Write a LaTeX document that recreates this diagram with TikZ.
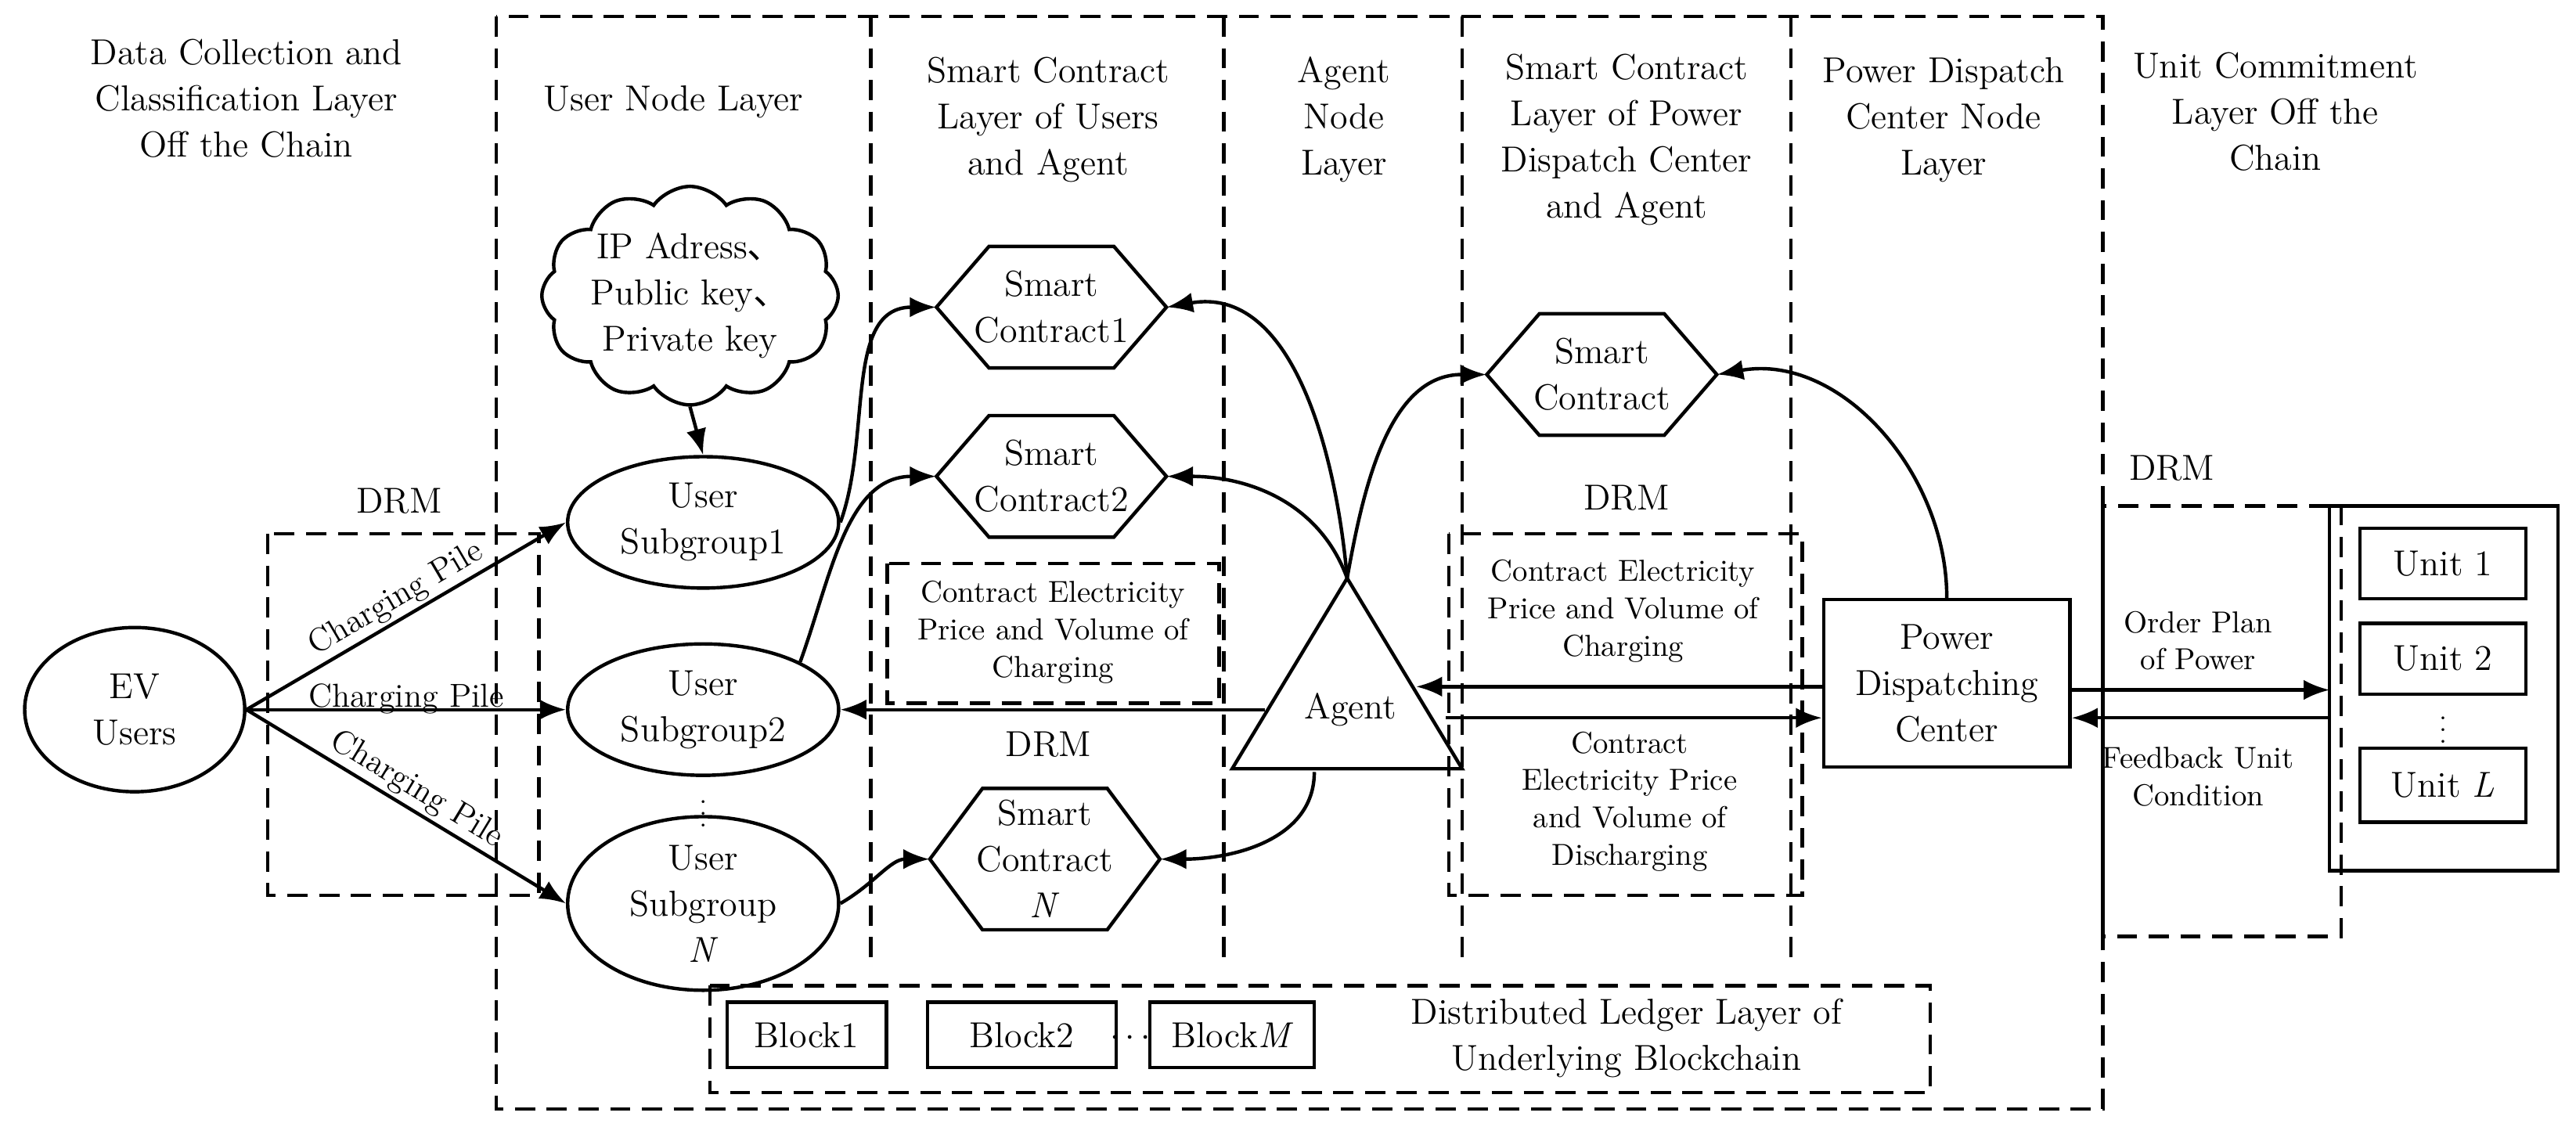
\documentclass[tikz,border=0pt]{standalone}
\usepackage{fontspec}
\newfontfamily\cjk{Noto Sans CJK SC}
\usetikzlibrary{shapes.geometric,shapes.symbols,arrows.meta}
\begin{document}
\begin{tikzpicture}[x=0.02cm,y=-0.02cm,
  font=\fontsize{12.5}{16}\selectfont,
  every node/.style={align=center,inner sep=1pt},
  dbox/.style={draw,line width=1.2pt,dash pattern=on 7pt off 4pt},
  arr/.style={line width=1.2pt,-{Latex[length=9pt,width=7pt]}},
  ell/.style={draw,ellipse,line width=1.2pt,minimum width=3.3cm,minimum height=1.6cm},
  box/.style={draw,line width=1.2pt},
  dots/.style={font=\fontsize{9}{9}\selectfont,inner sep=0pt},
  small/.style={font=\fontsize{10.5}{13}\selectfont},
  cp/.style={font=\fontsize{11.5}{13}\selectfont}]
\useasboundingbox (0,0) rectangle (1568,686);
% dashed frames
\draw[dbox] (302,10) rectangle (1280,675);
\foreach \x in {530,745,890,1090} \draw[dbox] (\x,10) -- (\x,585);
\draw[dbox] (432,600) rectangle (1175,665);
\draw[dbox] (163,325) rectangle (328,545);
\draw[dbox] (1280,308) rectangle (1425,570);
\draw[dbox] (882,325) rectangle (1097,545);
\draw[dbox] (540,343) rectangle (742,428);
% titles
\node (t1) at (150,60) {Data Collection and\\Classification Layer\\Off the Chain};
\node (t2) at (410,62) {User Node Layer};
\node (t3) at (638,73) {Smart Contract\\Layer of Users\\and Agent};
\node (t4) at (818,73) {Agent\\Node\\Layer};
\node (t5) at (990,85) {Smart Contract\\Layer of Power\\Dispatch Center\\and Agent};
\node (t6) at (1183,73) {Power Dispatch\\Center Node\\Layer};
\node (t7) at (1385,68) {Unit Commitment\\Layer Off the\\Chain};
\node (d1) at (243,305) {DRM};
\node (d2) at (1322,285) {DRM};
\node (d3) at (990,303) {DRM};
\node (d4) at (638,453) {DRM};
% nodes
\node[ell,minimum width=2.68cm,minimum height=2cm] (ev) at (82,432) {EV\\Users};
\node[ell] (u1) at (428,318) {User\\Subgroup1};
\node[ell] (u2) at (428,432) {User\\Subgroup2};
\node[dots] (ud) at (428,490) {$\vdots$};
\node[ell,minimum height=1.8cm] (un) at (428,550) {User\\Subgroup\\\textit{N}};
\node[draw,cloud,cloud puffs=12,cloud puff arc=110,aspect=1.5,line width=1.2pt,minimum width=3.6cm,minimum height=2.3cm,inner sep=0pt] (cl) at (420,180) {IP Adress{\cjk 、}\\Public key{\cjk 、}\\Private key};
\newcommand\hexa[4]{%
  \draw[line width=1.2pt] (#2-70,#3) -- (#2-38,#3-37) -- (#2+38,#3-37) -- (#2+70,#3) -- (#2+38,#3+37) -- (#2-38,#3+37) -- cycle;
  \node[minimum width=2.8cm,minimum height=1.48cm] (#1) at (#2,#3) {#4};}
\hexa{sc1}{640}{187}{Smart\\Contract1}
\hexa{sc2}{640}{290}{Smart\\Contract2}
\draw[line width=1.2pt] (566,523) -- (598,480) -- (674,480) -- (706,523) -- (674,566) -- (598,566) -- cycle;
\node[minimum width=2.8cm,minimum height=1.72cm] (scn) at (636,523) {Smart\\Contract\\\textit{N}};
\hexa{scr}{975}{228}{Smart\\Contract}
\node[small] (cc1) at (641,385) {Contract Electricity\\Price and Volume of\\Charging};
% agent
\coordinate (apex) at (820,352);
\coordinate (bl) at (750,468);
\coordinate (br) at (890,468);
\draw[line width=1.2pt] (apex) -- (bl) -- (br) -- cycle;
\node (ag) at (822,432) {Agent};
\coordinate (agl) at (770,432);
\coordinate (agr) at (862,418);
\coordinate (agr2) at (880,437);
\coordinate (agb) at (800,470);
% PDC
\node[box,minimum width=3cm,minimum height=2.04cm] (pdc) at (1185,416) {Power\\Dispatching\\Center};
% units
\draw[line width=1.2pt] (1418,308) rectangle (1557,530);
\node[box,minimum width=2.02cm,minimum height=0.86cm] (un1) at (1487,343) {Unit 1};
\node[box,minimum width=2.02cm,minimum height=0.86cm] (un2) at (1487,401) {Unit 2};
\node[dots] (und) at (1487,439) {$\vdots$};
\node[box,minimum width=2.02cm,minimum height=0.9cm] (unl) at (1487,478) {Unit \textit{L}};
\coordinate (uo) at (1418,420);
\coordinate (uf) at (1418,437);
% labels
\node[small] (cc2) at (988,372) {Contract Electricity\\Price and Volume of\\Charging};
\node[small] (cd) at (992,488) {Contract\\Electricity Price\\and Volume of\\Discharging};
\node[small] (op) at (1338,390) {Order Plan\\of Power};
\node[small] (fb) at (1338,473) {Feedback Unit\\Condition};
% blocks
\node[box,minimum width=1.94cm,minimum height=0.8cm] (b1) at (491,630) {Block1};
\node[box,minimum width=2.3cm,minimum height=0.8cm] (b2) at (622,630) {Block2};
\node (bd) at (688,632) {$\cdots$};
\node[box,minimum width=2cm,minimum height=0.8cm] (bm) at (750,630) {Block\textit{M}};
\node (dl) at (990,632) {Distributed Ledger Layer of\\Underlying Blockchain};
% connectors
\draw[arr] (ev.east) -- node[sloped,above,cp] {Charging Pile} (u1.west);
\draw[arr] (ev.east) -- node[above=-3pt,cp] {Charging Pile} (u2.west);
\draw[arr] (ev.east) -- node[sloped,above,cp] {Charging Pile} (un.west);
\draw[arr] (cl.south) -- (u1.north);
\draw[arr] (u1.east) to[out=70,in=180] (sc1.west);
\draw[arr] (u2.north east) to[out=70,in=180] (sc2.west);
\draw[arr] (un.east) to[out=30,in=180] (scn.west);
\draw[arr] (apex) to[out=95,in=10] (sc1.east);
\draw[arr] (apex) to[out=110,in=0] (sc2.east);
\draw[arr] (agb) to[out=-90,in=0] (scn.east);
\draw[arr] (agl) -- (u2.east);
\draw[arr] (apex) to[out=80,in=180] (scr.west);
\draw[arr] (pdc.north) to[out=90,in=10] (scr.east);
\draw[arr] (pdc.west |- agr) -- (agr);
\draw[arr] (agr2) -- (pdc.west |- agr2);
\draw[arr] (pdc.east |- uo) -- (uo);
\draw[arr] (uf) -- (pdc.east |- uf);
\end{tikzpicture}
\end{document}
